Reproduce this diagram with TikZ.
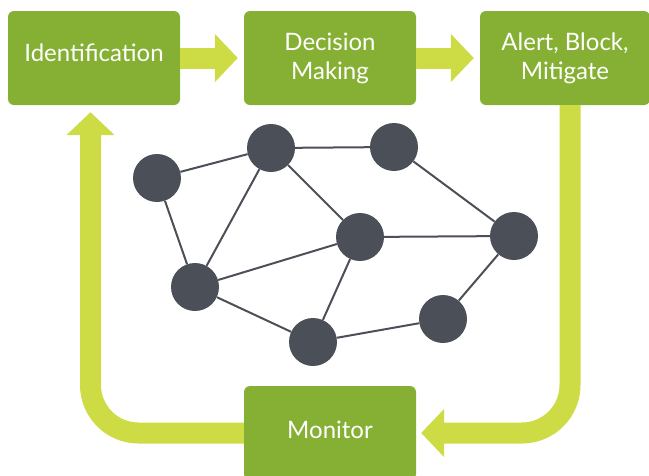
\documentclass[tikz,border=0pt]{standalone}
\usepackage{fontspec}
\setmainfont{Lato}
\usetikzlibrary{arrows.meta}
\definecolor{stagegreen}{HTML}{86B034}
\definecolor{flowlime}{HTML}{CDDC45}
\definecolor{peergrey}{HTML}{4B4F57}

\begin{document}
\begin{tikzpicture}[x=1pt,y=-1pt,
    stage/.style={rectangle,rounded corners=6pt,fill=stagegreen,text=white,
      minimum width=172pt,minimum height=94pt,align=center,
      font=\fontsize{24}{29}\selectfont},
    flow/.style={flowlime,line width=21pt,-{Triangle[width=47pt,length=23pt]}},
    peer/.style={circle,fill=peergrey,minimum size=48pt,inner sep=0pt},
    link/.style={peergrey,line width=2pt}]
  \useasboundingbox (0,0) rectangle (649,475);
  \node[stage,text depth=10pt] (ident) at (94,58) {Identification};
  \node[stage] (decide) at (330,58) {Decision\\Making};
  \node[stage,minimum width=170pt] (act) at (565,58) {Alert, Block,\\Mitigate};
  \node[stage,text depth=6pt] (mon) at (330,433) {Monitor};
  \coordinate (lft) at (90.5,0);
  \coordinate (rgt) at (570,0);
  \draw[flow,shorten >=6pt] (ident) -- (decide);
  \draw[flow,shorten >=6pt] (decide) -- (act);
  \draw[flow,rounded corners=48pt,shorten >=5pt] (rgt |- act.south) |- (mon);
  \draw[flow,rounded corners=48pt,shorten >=7pt] (mon) -| (lft |- ident.south);
  % network
  \foreach \n/\x/\y in {n1/157/178,n2/271/148,n3/394/147,n4/360/237,
                        n5/514/236,n6/195/287,n7/313/342,n8/443/319}
    \node[peer] (\n) at (\x,\y) {};
  \path[link]
    (n1) edge (n2) edge (n6)
    (n2) edge (n3) edge (n6) edge (n4)
    (n3) edge (n5)
    (n4) edge (n5) edge (n6) edge (n7)
    (n6) edge (n7)
    (n7) edge (n8)
    (n8) edge (n5);
\end{tikzpicture}
\end{document}
